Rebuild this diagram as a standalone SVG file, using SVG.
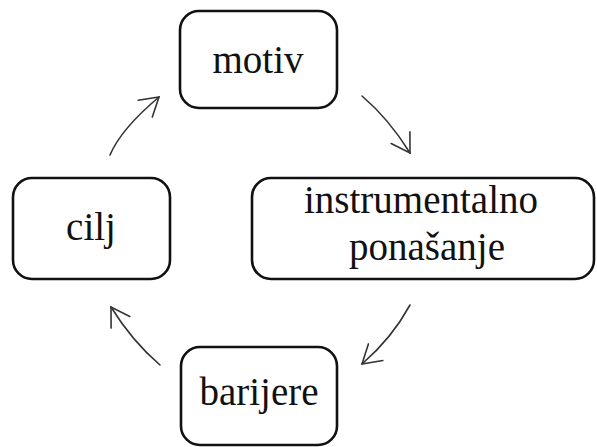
<svg xmlns="http://www.w3.org/2000/svg" width="597" height="447" viewBox="0 0 597 447">
<style>
.box{fill:#fff;stroke:#111;stroke-width:2.6}
.lbl{font-family:'Liberation Serif','Times New Roman',serif;font-size:39px;fill:#111;text-anchor:middle}
.arc{fill:none;stroke:#333;stroke-width:1.6;stroke-linecap:round}
</style>
<defs>
<marker id="ah" markerUnits="userSpaceOnUse" markerWidth="30" markerHeight="30" viewBox="-20 -15 25 30" refX="0" refY="0" orient="auto">
<path d="M-18,-11 L0,0 L-18,11" fill="none" stroke="#333" stroke-width="1.6" stroke-linecap="round" stroke-linejoin="miter"/>
</marker>
</defs>
<rect width="597" height="447" fill="#fff"/>
<g id="motiv"><rect class="box" x="180" y="11" width="157" height="97" rx="19"/><text class="lbl" x="258" y="73">motiv</text></g>
<g id="instrumentalno"><rect class="box" x="252" y="178" width="342" height="101" rx="19"/><text class="lbl" x="421" y="213">instrumentalno</text><text class="lbl" x="427" y="260">ponašanje</text></g>
<g id="cilj"><rect class="box" x="13" y="178" width="157" height="101" rx="19"/><text class="lbl" x="91" y="240">cilj</text></g>
<g id="barijere"><rect class="box" x="181" y="347" width="156" height="98" rx="19"/><text class="lbl" x="259" y="405">barijere</text></g>
<g id="connectors">
<path class="arc" d="M110,155 Q121,129 159,97" marker-end="url(#ah)"/>
<path class="arc" d="M362,96 Q389,119 410,153" marker-end="url(#ah)"/>
<path class="arc" d="M410,305 Q392,338 362,364" marker-end="url(#ah)"/>
<path class="arc" d="M160,365 Q132,341 111,307" marker-end="url(#ah)"/>
</g>
</svg>
